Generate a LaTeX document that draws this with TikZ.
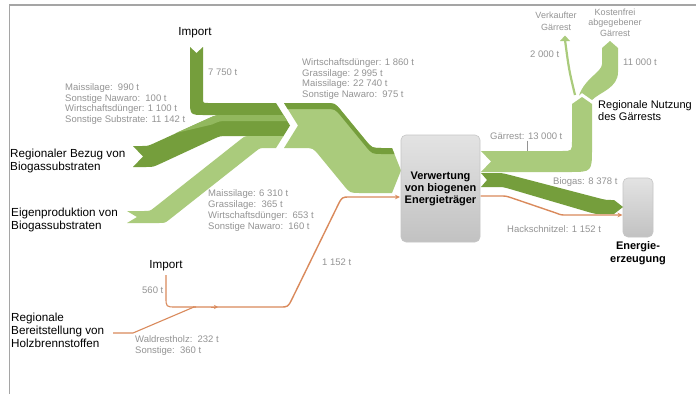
\documentclass[tikz,border=0pt]{standalone}
\usepackage{fontspec}
\setmainfont{Liberation Sans}
\usetikzlibrary{arrows.meta}
\definecolor{dkg}{RGB}{117,158,60}
\definecolor{mdg}{RGB}{146,184,94}
\definecolor{ltg}{RGB}{170,203,124}
\definecolor{orl}{RGB}{218,138,92}
\definecolor{txg}{RGB}{148,148,148}
\definecolor{frm}{RGB}{165,165,165}
\begin{document}
\begin{tikzpicture}[x=1pt,y=-1pt,
  gl/.style={font=\fontsize{9.5}{10.7}\selectfont, text=txg, align=left, anchor=north west, inner sep=0},
  glw/.style={font=\fontsize{9.5}{10.7}\selectfont, text=txg, anchor=west, inner sep=0},
  glc/.style={font=\fontsize{9}{10.7}\selectfont, text=txg, align=center, anchor=north, inner sep=0},
  bl/.style={font=\fontsize{11.7}{13}\selectfont, text=black, align=left, anchor=north west, inner sep=0},
  bb/.style={font=\bfseries\fontsize{11}{12}\selectfont, text=black, align=center, inner sep=0},
  grbox/.style={rounded corners=5pt, top color=gray!22, bottom color=gray!48, draw=gray!45, line width=0.6pt},
  orline/.style={draw=orl, line width=1.4pt, line join=round},
  ortip/.style={-{Stealth[length=5pt,width=4.5pt]}},
]
\useasboundingbox (0,0) rectangle (696,394);
\fill[white] (0,0) rectangle (696,394);
% frame
\draw[frm, line width=1.6pt] (9.5,394) -- (9.5,5) -- (696,5);

% ---------- incoming biogas bands ----------
% Import (dark)
\fill[dkg] (190,47) -- (196.5,53) -- (203,47) -- (203,98) .. controls (203,103) .. (208,103)
  -- (276,103) -- (283.5,115) -- (205,115) .. controls (190,115) .. (190,100) -- cycle;
% Regional (dark)
\fill[dkg] (133,146) -- (142,146) .. controls (148,146) .. (155.3,142.7) -- (208.7,118.3)
  .. controls (216,115) .. (224,115) -- (283.5,115) -- (290,125.5) -- (283.5,136) -- (228,136)
  .. controls (220,136) .. (212.7,139.4) -- (160.3,163.7) .. controls (153,167) .. (146,167)
  -- (133,167) -- (143,156.5) -- cycle;
% medium strip on top of regional band
\fill[mdg] (176,133) -- (208.7,118.3) .. controls (216,115) .. (224,115) -- (283.5,115)
  -- (287.2,121) -- (227,121) .. controls (220,121) .. (212,124.5) -- cycle;
% Eigenproduktion (light)
\fill[ltg] (127,211) -- (144,211) .. controls (150,211) .. (154.7,207.3) -- (240.3,139.7)
  .. controls (245,136) .. (251,136) -- (283.5,136) -- (276,148) -- (266,148)
  .. controls (260,148) .. (255.3,151.7) -- (169.7,219.3) .. controls (165,223) .. (159,223)
  -- (127,223) -- (137,217) -- cycle;

% combined band into Verwertung
\fill[ltg] (284,103) -- (325,103) .. controls (335,103) .. (341.35,110.72) -- (365.65,140.28)
  .. controls (372,148) .. (382,148) -- (392,148) -- (401,170.5) -- (392,193) -- (360,193)
  .. controls (350,193) .. (343.65,185.28) -- (319.35,155.72) .. controls (313,148) .. (303,148)
  -- (284,148) -- (298,125.5) -- cycle;
\fill[dkg] (284,103) -- (325,103) .. controls (335,103) .. (341.35,110.72) -- (365.65,140.28)
  .. controls (372,148) .. (382,148) -- (392,148) -- (394.4,154) -- (382,154)
  .. controls (372,154) .. (365.65,146.28) -- (341.35,116.72) .. controls (335,109) .. (325,109)
  -- (287.7,109) -- cycle;

% ---------- boxes ----------
\node[grbox, bb, minimum width=79pt, minimum height=107pt] (vw) at (440.5,188.5)
  {Verwertung\\von biogenen\\Energieträger};
\node[grbox, minimum width=30pt, minimum height=59pt] (ez) at (638,207.5) {};
\node[bb, anchor=north, font=\bfseries\fontsize{11}{13}\selectfont] (ezt) at (638,241.5) {Energie-\\erzeugung};

% ---------- outputs ----------
% Gaerrest band
\fill[ltg] (481,151) -- (562,151) .. controls (572,151) .. (572,141) -- (572,104) -- (582,97)
  -- (592,104) -- (592,148) .. controls (592,172) .. (569,172) -- (481,172) -- (491,161.5) -- cycle;
% big branch (kostenfrei)
\fill[ltg] (579,95.5) -- (582,93) -- (592,100) .. controls (600,92) and (618,88) .. (618,72)
  -- (618,48) -- (610,41) -- (602,48) -- (602,64) .. controls (602,72) and (585,78) .. (579,95.5) -- cycle;
% thin branch (verkauft)
\coordinate (vkb) at (575,95);
\coordinate (vkt) at (565,40);
\draw[ltg, line width=2.2pt] (vkb) .. controls (569,70) .. (vkt);
\fill[ltg] (560,41) -- (565,35.5) -- (570,41) -- cycle;
% tick under Gaerrest label
\draw[txg, line width=0.5pt] (527,140.5) -- (527,151);
% Biogas band
\fill[dkg] (481,173) -- (495,173) .. controls (502,173) .. (510,175) -- (602,199)
  .. controls (606,200) .. (614,200) -- (623,207) -- (614,214) -- (600,214)
  .. controls (596,214) .. (590,212.5) -- (510,189) .. controls (503,187) .. (495,187)
  -- (481,187) -- (487,180) -- cycle;

% ---------- wood (orange) ----------
\coordinate (impo) at (166,275);
\coordinate (holzo) at (113,333);
\coordinate (vwin) at (400,197);
\coordinate (vwout) at (480.5,196);
\coordinate (ezin) at (622.5,215);
\draw[orline, line width=1.1pt] (impo) -- (166,297) .. controls (166,307) .. (176,307) -- (196,307);
\draw[orline, line width=1.1pt] (holzo) -- (133,333) -- (194,307);
\draw[orline, ortip] (193,307) -- (280,307) .. controls (288,307) .. (292,299) -- (338,205)
  .. controls (342,197) .. (350,197) -- (vwin);
\draw[orl, line width=1pt, -{Stealth[length=4pt,width=4pt]}] (211,307) -- (218,307);
\draw[orline, ortip] (vwout) -- (500,196) .. controls (506,196) .. (512,198) -- (556,213)
  .. controls (561,215) .. (567,215) -- (ezin);

% ---------- texts ----------
\node[font=\fontsize{11.7}{13}\selectfont, inner sep=0] (imp1) at (195,33) {Import};
\node[gl] (t1) at (65,83.5) {Maissilage:\ \ 990 t\\Sonstige Nawaro:\ \ 100 t\\Wirtschaftsdünger: 1 100 t\\Sonstige Substrate: 11 142 t};
\node[glw] (t2) at (208,72) {7 750 t};
\node[gl, font=\fontsize{9.5}{10.5}\selectfont] (t3) at (302,58.5) {Wirtschaftsdünger: 1 860 t\\Grassilage: 2 995 t\\Maissilage: 22 740 t\\Sonstige Nawaro:\ \ 975 t};
\node[gl, font=\fontsize{9.5}{11}\selectfont] (t4) at (208,189.5) {Maissilage: 6 310 t\\Grassilage:\ \ 365 t\\Wirtschaftsdünger:\ \ 653 t\\Sonstige Nawaro:\ \ 160 t};
\node[glw] (t5) at (322,262) {1 152 t};
\node[glw] (t6) at (142,290) {560 t};
\node[gl, font=\fontsize{9.5}{11}\selectfont] (t7) at (135,335.5) {Waldrestholz:\ \ 232 t\\Sonstige:\ \ 360 t};
\node[glw] (t8) at (490,136) {Gärrest: 13 000 t};
\node[glw] (t9) at (530,54) {2 000 t};
\node[glw] (t10) at (623,62) {11 000 t};
\node[glc, font=\fontsize{9}{12.5}\selectfont] (t11) at (556,11.5) {Verkaufter\\Gärrest};
\node[glc] (t12) at (615,8.5) {Kostenfrei\\abgegebener\\Gärrest};
\node[glw] (t13) at (553,182) {Biogas: 8 378 t};
\node[glw] (t14) at (507,229) {Hackschnitzel: 1 152 t};

\node[bl] (reg) at (10,148.7) {Regionaler Bezug von\\Biogassubstraten};
\node[bl] (eig) at (11,207.7) {Eigenproduktion von\\Biogassubstraten};
\node[font=\fontsize{11.7}{13}\selectfont, inner sep=0] (imp2) at (166,266) {Import};
\node[bl] (holz) at (11,312.7) {Regionale\\Bereitstellung von\\Holzbrennstoffen};
\node[bl, font=\fontsize{11}{12.5}\selectfont] (nutz) at (598,100) {Regionale Nutzung\\des Gärrests};
\end{tikzpicture}
\end{document}
